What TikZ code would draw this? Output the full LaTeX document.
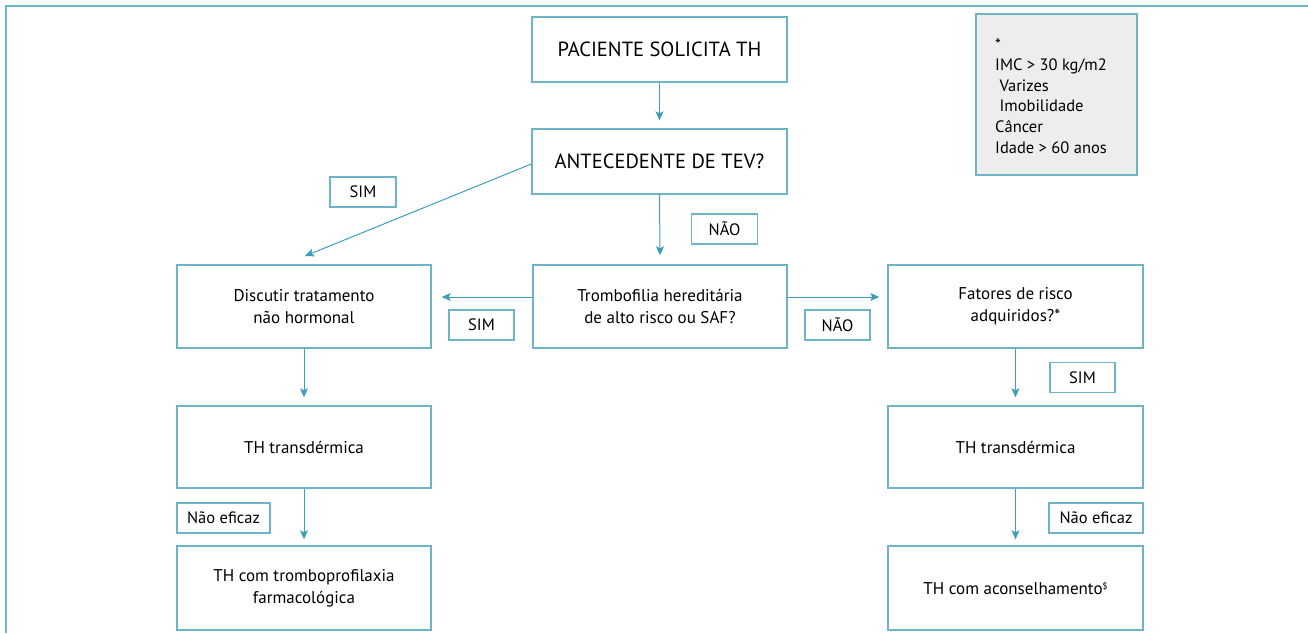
\documentclass[tikz,border=0pt]{standalone}
\usepackage{fontspec}
\setmainfont{PT Sans}
\usetikzlibrary{arrows.meta,calc}
\definecolor{boxc}{RGB}{110,180,200}
\definecolor{arrc}{RGB}{60,158,184}
\definecolor{legfill}{RGB}{237,237,237}
\begin{document}
\begin{tikzpicture}[x=1pt,y=-1pt,
  flowbox/.style={draw=boxc,line width=1.4pt,align=center,inner sep=2pt,
    font=\fontsize{17}{22}\selectfont},
  titlebox/.style={flowbox,font=\fontsize{20.5}{24}\selectfont},
  lbl/.style={draw=boxc,line width=1.3pt,minimum height=30pt,inner sep=0pt,
    font=\fontsize{16.5}{19}\selectfont},
  arr/.style={draw=arrc,line width=1pt,-{Stealth[length=9pt,width=8pt,inset=2pt]}}]
\useasboundingbox (0,0) rectangle (1308,633);
\draw[boxc,line width=2pt] (6,633) -- (6,6) -- (1308,6);
% main boxes
\node[titlebox,minimum width=255pt,minimum height=65pt] (pac) at (659.5,49.5) {PACIENTE SOLICITA TH};
\node[titlebox,minimum width=255pt,minimum height=65pt] (ante) at (659.5,161.5) {ANTECEDENTE DE TEV?};
\node[flowbox,minimum width=254pt,minimum height=83pt] (disc) at (304,306.5) {Discutir tratamento\\não hormonal};
\node[flowbox,minimum width=254pt,minimum height=83pt] (tromb) at (660,306.5) {Trombofilia hereditária\\de alto risco ou SAF?};
\node[flowbox,minimum width=255pt,minimum height=83pt] (fat) at (1015.5,306.5) {Fatores de risco\\adquiridos?*};
\node[flowbox,minimum width=254pt,minimum height=82pt] (thl) at (304,447) {TH transdérmica};
\node[flowbox,minimum width=255pt,minimum height=82pt] (thr) at (1015.5,447) {TH transdérmica};
\node[flowbox,minimum width=254pt,minimum height=84pt] (tcl) at (304,588) {TH com tromboprofilaxia\\farmacológica};
\node[flowbox,minimum width=255pt,minimum height=84pt] (tcr) at (1015.5,588) {TH com aconselhamento\raisebox{5pt}{\fontsize{9}{9}\selectfont\$}};
% legend
\node[draw=boxc,line width=1.4pt,fill=legfill,minimum width=161pt,minimum height=161pt] (leg) at (1056.5,94.5) {};
\node[anchor=north west,align=left,inner sep=0pt,font=\fontsize{16.5}{20.6}\selectfont] (legt) at (995,38)
  {*\\IMC > 30 kg/m2\\\ Varizes\\\ Imobilidade\\Câncer\\Idade > 60 anos};
% labels
\node[lbl,minimum width=66pt] (sim1) at (363,192) {SIM};
\node[lbl,minimum width=66pt] (nao1) at (724.5,229) {NÃO};
\node[lbl,minimum width=65pt] (sim2) at (481.5,325) {SIM};
\node[lbl,minimum width=65pt] (nao2) at (837.5,325) {NÃO};
\node[lbl,minimum width=65pt] (sim3) at (1082.5,377.5) {SIM};
\node[lbl,minimum width=93pt] (nel) at (223.5,518) {Não eficaz};
\node[lbl,minimum width=94pt] (ner) at (1096,518) {Não eficaz};
% connectors
\coordinate (dtip) at (305,256);
\draw[arr] (pac.south) -- ($(ante.north)+(0,-8)$);
\draw[arr] ($(ante.west)+(0,2.5)$) -- (dtip);
\draw[arr] (ante.south) -- ($(tromb.north)+(0,-9)$);
\draw[arr] ($(tromb.west)+(0,-9.5)$) -- ($(disc.east)+(10,-9.5)$);
\draw[arr] ($(tromb.east)+(0,-9.5)$) -- ($(fat.west)+(-8,-9.5)$);
\draw[arr] (disc.south) -- ($(thl.north)+(0,-8)$);
\draw[arr] (fat.south) -- ($(thr.north)+(0,-8)$);
\draw[arr] (thl.south) -- ($(tcl.north)+(0,-6)$);
\draw[arr] (thr.south) -- ($(tcr.north)+(0,-6)$);
\end{tikzpicture}
\end{document}
